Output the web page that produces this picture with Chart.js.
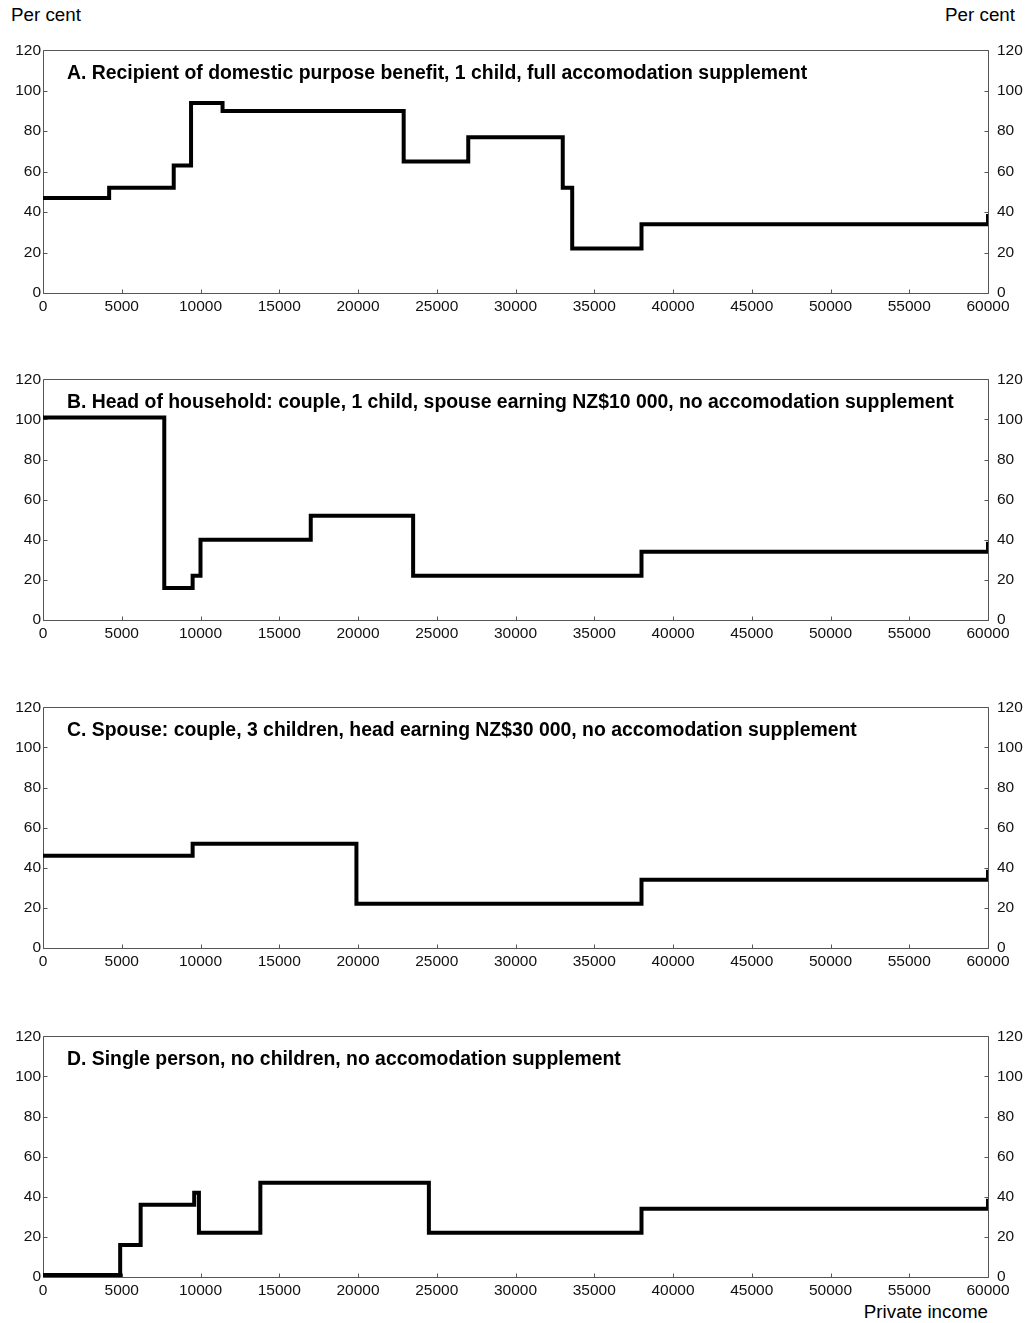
<!DOCTYPE html>
<html><head><meta charset="utf-8">
<script src="https://cdn.jsdelivr.net/npm/chart.js@4/dist/chart.umd.min.js"></script>
<style>
body{margin:0;width:1028px;height:1323px;background:#fff;position:relative;font-family:"Liberation Sans",Arial,sans-serif;overflow:hidden}
canvas{position:absolute;left:0}
.t{position:absolute;left:67px;font-weight:bold;font-size:19.4px;line-height:22px;color:#000;white-space:nowrap}
.l{position:absolute;font-size:18.8px;line-height:22px;color:#000;white-space:nowrap}
</style></head>
<body>
<div class="l" style="left:11px;top:4px">Per cent</div>
<div class="l" style="right:13px;top:4px">Per cent</div>
<div class="l" style="right:40px;top:1301px">Private income</div>
<canvas id="c0"></canvas><canvas id="c1"></canvas><canvas id="c2"></canvas><canvas id="c3"></canvas>
<div class="t" id="t0"></div><div class="t" id="t1"></div><div class="t" id="t2"></div><div class="t" id="t3"></div>
<script>
// ---- data ----
const panelTitles = [
  "A. Recipient of domestic purpose benefit, 1 child, full accomodation supplement",
  "B. Head of household: couple, 1 child, spouse earning NZ$10 000, no accomodation supplement",
  "C. Spouse: couple, 3 children, head earning NZ$30 000, no accomodation supplement",
  "D. Single person, no children, no accomodation supplement"
];
const incomeA = [0, 4200, 8300, 9400, 11400, 22900, 27000, 33000, 33600, 38000, 60000, 60000];
const rateA   = [47, 52, 63, 94, 90, 65, 77, 52, 22, 34, 34, 39];
const incomeB = [0, 7700, 9500, 10000, 17000, 23500, 38000, 60000, 60000];
const rateB   = [101, 16, 22, 40, 52, 22, 34, 34, 39];
const incomeC = [0, 9500, 19900, 38000, 60000, 60000];
const rateC   = [46, 52, 22, 34, 34, 39];
const incomeD = [0, 4900, 6200, 9600, 9900, 13800, 24500, 38000, 60000, 60000];
const rateD   = [1, 16, 36, 42, 22, 47, 22, 34, 34, 39];
const xMin = 0, xMax = 60000, xStep = 5000;
const yMin = 0, yMax = 120, yStep = 20;

const incomes = [incomeA, incomeB, incomeC, incomeD];
const rates = [rateA, rateB, rateC, rateD];

// ---- layout ----
const panelBox = [
  {top: 47, bottom: 293},
  {top: 376, bottom: 620},
  {top: 704, bottom: 948},
  {top: 1033, bottom: 1277}
];
const padTop = 15, xAxisH = 30, leftW = 43, rightW = 40;
const FONT = '"Liberation Sans", Arial, sans-serif';

const framePlugin = {
  id: 'frame',
  beforeDatasetsDraw(chart) {
    const {ctx, chartArea: a, scales} = chart;
    ctx.save();
    ctx.strokeStyle = '#555';
    ctx.lineWidth = 1;
    const L = Math.round(a.left) + 0.5, R = Math.round(a.right) + 0.5;
    const T = Math.round(a.top) + 0.5, B = Math.round(a.bottom) + 0.5;
    ctx.beginPath();
    ctx.rect(L, T, R - L, B - T);
    scales.x.ticks.forEach(t => {
      const px = Math.round(scales.x.getPixelForValue(t.value)) + 0.5;
      ctx.moveTo(px, B); ctx.lineTo(px, B - 4);
    });
    scales.y.ticks.forEach(t => {
      const py = Math.round(scales.y.getPixelForValue(t.value)) + 0.5;
      ctx.moveTo(L, py); ctx.lineTo(L + 4, py);
      ctx.moveTo(R, py); ctx.lineTo(R - 4, py);
    });
    ctx.stroke();
    ctx.restore();
  }
};

function tickCfg(pad) {
  return {stepSize: 0, autoSkip: false, maxRotation: 0, padding: pad,
          color: '#111', font: {size: 15.5, family: FONT},
          callback: v => String(v)};
}

for (let i = 0; i < 4; i++) {
  const p = panelBox[i];
  const plotH = p.bottom - p.top;
  const cv = document.getElementById('c' + i);
  cv.width = 1028;
  cv.height = plotH + padTop + xAxisH;
  cv.style.top = (p.top - padTop) + 'px';
  const tEl = document.getElementById('t' + i);
  tEl.textContent = panelTitles[i];
  tEl.style.top = (p.top + 25 - 11) + 'px';

  const xt = tickCfg(4); xt.stepSize = xStep;
  const yl = tickCfg(2); yl.stepSize = yStep;
  const yr = tickCfg(9); yr.stepSize = yStep;

  new Chart(cv, {
    type: 'line',
    data: {datasets: [{
      data: incomes[i].map((x, k) => ({x: x, y: rates[i][k]})),
      borderColor: '#000', borderWidth: 4, stepped: 'before',
      pointRadius: 0, fill: false, borderCapStyle: 'butt', borderJoinStyle: 'miter'
    }]},
    options: {
      responsive: false, animation: false,
      layout: {padding: {top: padTop, left: 0, right: 0, bottom: 0}},
      plugins: {legend: {display: false}, tooltip: {enabled: false}, title: {display: false}},
      scales: {
        x: {type: 'linear', min: xMin, max: xMax, ticks: xt,
            grid: {display: false, drawTicks: false}, border: {display: false},
            afterFit(s) { s.height = xAxisH; }},
        y: {position: 'left', min: yMin, max: yMax, ticks: yl,
            grid: {display: false, drawTicks: false}, border: {display: false},
            afterFit(s) { s.width = leftW; }},
        y2: {position: 'right', min: yMin, max: yMax, ticks: yr,
            grid: {display: false, drawTicks: false}, border: {display: false},
            afterFit(s) { s.width = rightW; }}
      }
    },
    plugins: [framePlugin]
  });
}
</script>
</body></html>
